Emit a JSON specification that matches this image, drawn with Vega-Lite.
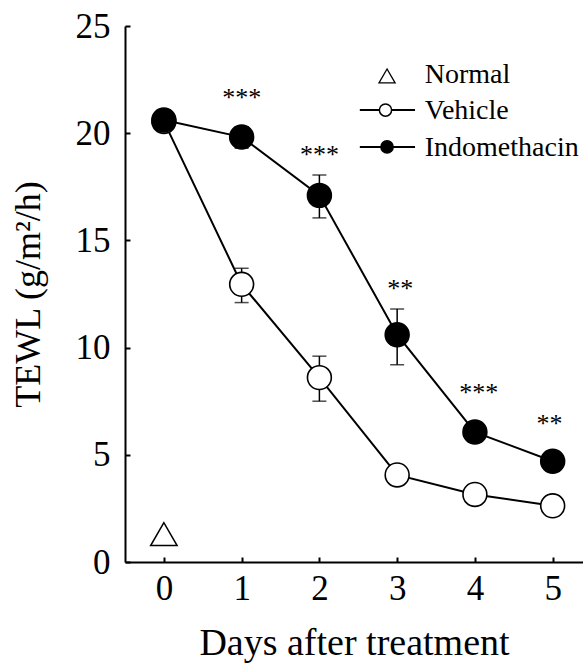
{
  "$schema": "https://vega.github.io/schema/vega-lite/v6.json",
  "width": 458,
  "height": 536,
  "autosize": "none",
  "padding": {"left": 125, "top": 26, "right": 0, "bottom": 104},
  "background": "white",
  "config": {
    "view": {"stroke": null},
    "font": "Liberation Serif",
    "axis": {
      "domainColor": "black", "domainWidth": 2, "tickColor": "black", "tickWidth": 2,
      "labelColor": "black", "titleColor": "black", "labelFont": "Liberation Serif",
      "titleFont": "Liberation Serif", "titleFontWeight": "normal", "grid": false
    }
  },
  "datasets": {
    "main": [
      {"group": "Vehicle", "day": 0, "tewl": 20.55, "lo": 20.3, "hi": 20.8},
      {"group": "Vehicle", "day": 1, "tewl": 12.95, "lo": 12.1, "hi": 13.7},
      {"group": "Vehicle", "day": 2, "tewl": 8.6, "lo": 7.5, "hi": 9.6},
      {"group": "Vehicle", "day": 3, "tewl": 4.06, "lo": 3.8, "hi": 4.3},
      {"group": "Vehicle", "day": 4, "tewl": 3.15, "lo": 2.9, "hi": 3.4},
      {"group": "Vehicle", "day": 5, "tewl": 2.62, "lo": 2.4, "hi": 2.85},
      {"group": "Indomethacin", "day": 0, "tewl": 20.62, "lo": 20.3, "hi": 20.9},
      {"group": "Indomethacin", "day": 1, "tewl": 19.82, "lo": 19.3, "hi": 20.3},
      {"group": "Indomethacin", "day": 2, "tewl": 17.1, "lo": 16.05, "hi": 18.05},
      {"group": "Indomethacin", "day": 3, "tewl": 10.6, "lo": 9.2, "hi": 11.8},
      {"group": "Indomethacin", "day": 4, "tewl": 6.06, "lo": 5.7, "hi": 6.4},
      {"group": "Indomethacin", "day": 5, "tewl": 4.7, "lo": 4.4, "hi": 5.0}
    ],
    "normal": [{"group": "Normal", "day": 0, "tewl": 1.3}],
    "stars": [
      {"day": 1.0, "y": 21.25, "label": "***"},
      {"day": 2.0, "y": 18.6, "label": "***"},
      {"day": 3.04, "y": 12.35, "label": "**"},
      {"day": 4.05, "y": 7.5, "label": "***"},
      {"day": 4.96, "y": 6.05, "label": "**"}
    ],
    "legend": [
      {"group": "Normal", "lx": 2.87, "x1": 2.87, "x2": 2.87, "ly": 22.67, "tx": 3.355, "ty": 22.7},
      {"group": "Vehicle", "lx": 2.85, "x1": 2.52, "x2": 3.23, "ly": 21.08, "tx": 3.355, "ty": 21.04},
      {"group": "Indomethacin", "lx": 2.87, "x1": 2.52, "x2": 3.23, "ly": 19.36, "tx": 3.355, "ty": 19.3}
    ]
  },
  "layer": [
    {
      "mark": {"type": "rule", "color": "black", "strokeWidth": 2},
      "encoding": {"y": {"datum": 25, "type": "quantitative", "scale": {"domain": [0, 25], "nice": false}, "title": "TEWL (g/m²/h)"}}
    },
    {
      "data": {"name": "main"},
      "mark": {"type": "line", "color": "black", "strokeWidth": 2},
      "encoding": {
        "x": {
          "field": "day", "type": "quantitative",
          "scale": {"domain": [-0.5, 5.39], "nice": false, "zero": false},
          "title": "Days after treatment",
          "axis": {
            "values": [0, 1, 2, 3, 4, 5],
            "labelFontSize": 35, "titleFontSize": 38, "tickSize": -5,
            "labelPadding": 14, "titlePadding": 18, "format": "d", "labelFlush": false
          }
        },
        "y": {
          "field": "tewl", "type": "quantitative",
          "scale": {"domain": [0, 25], "nice": false},
          "title": "TEWL (g/m²/h)",
          "axis": {
            "values": [0, 5, 10, 15, 20, 25],
            "labelFontSize": 35, "titleFontSize": 36, "tickSize": -5,
            "labelPadding": 20, "titlePadding": 28, "labelFlush": false
          }
        },
        "detail": {"field": "group"}
      }
    },
    {
      "data": {"name": "main"},
      "mark": {"type": "errorbar", "ticks": {"size": 14, "thickness": 1.5, "color": "black"}, "color": "black", "thickness": 1.5},
      "encoding": {
        "x": {"field": "day", "type": "quantitative", "title": "Days after treatment"},
        "y": {"field": "lo", "type": "quantitative", "title": "TEWL (g/m²/h)"},
        "y2": {"field": "hi"}
      }
    },
    {
      "data": {"name": "main"},
      "mark": {"type": "point", "shape": "circle", "size": 570, "stroke": "black", "strokeWidth": 1.6, "opacity": 1, "filled": false},
      "encoding": {
        "x": {"field": "day", "type": "quantitative", "title": "Days after treatment"},
        "y": {"field": "tewl", "type": "quantitative", "title": "TEWL (g/m²/h)"},
        "fill": {"field": "group", "type": "nominal", "scale": {"domain": ["Vehicle", "Indomethacin"], "range": ["white", "black"]}, "legend": null}
      }
    },
    {
      "data": {"name": "normal"},
      "mark": {"type": "point", "shape": "triangle-up", "size": 700, "stroke": "black", "strokeWidth": 1.5, "fill": "white", "opacity": 1},
      "encoding": {
        "x": {"field": "day", "type": "quantitative", "title": "Days after treatment"},
        "y": {"field": "tewl", "type": "quantitative", "title": "TEWL (g/m²/h)"}
      }
    },
    {
      "data": {"name": "stars"},
      "mark": {"type": "text", "fontSize": 26, "color": "black", "baseline": "alphabetic", "align": "center", "font": "Liberation Serif"},
      "encoding": {
        "x": {"field": "day", "type": "quantitative", "title": "Days after treatment"},
        "y": {"field": "y", "type": "quantitative", "title": "TEWL (g/m²/h)"},
        "text": {"field": "label"}
      }
    },
    {
      "data": {"name": "legend"},
      "transform": [{"filter": "datum.group !== 'Normal'"}],
      "mark": {"type": "rule", "color": "black", "strokeWidth": 2},
      "encoding": {
        "x": {"field": "x1", "type": "quantitative", "title": "Days after treatment"},
        "x2": {"field": "x2"},
        "y": {"field": "ly", "type": "quantitative", "title": "TEWL (g/m²/h)"}
      }
    },
    {
      "data": {"name": "legend"},
      "transform": [{"filter": "datum.group !== 'Normal'"}],
      "mark": {"type": "point", "shape": "circle", "size": 150, "stroke": "black", "strokeWidth": 1.5, "opacity": 1},
      "encoding": {
        "x": {"field": "lx", "type": "quantitative", "title": "Days after treatment"},
        "y": {"field": "ly", "type": "quantitative", "title": "TEWL (g/m²/h)"},
        "fill": {"field": "group", "type": "nominal", "legend": null}
      }
    },
    {
      "data": {"name": "legend"},
      "transform": [{"filter": "datum.group === 'Normal'"}],
      "mark": {"type": "point", "shape": "triangle-up", "size": 260, "stroke": "black", "strokeWidth": 1.3, "fill": "white", "opacity": 1},
      "encoding": {
        "x": {"field": "lx", "type": "quantitative", "title": "Days after treatment"},
        "y": {"field": "ly", "type": "quantitative", "title": "TEWL (g/m²/h)"}
      }
    },
    {
      "data": {"name": "legend"},
      "mark": {"type": "text", "fontSize": 28, "color": "black", "align": "left", "baseline": "middle", "font": "Liberation Serif"},
      "encoding": {
        "x": {"field": "tx", "type": "quantitative", "title": "Days after treatment"},
        "y": {"field": "ty", "type": "quantitative", "title": "TEWL (g/m²/h)"},
        "text": {"field": "group"}
      }
    }
  ]
}
